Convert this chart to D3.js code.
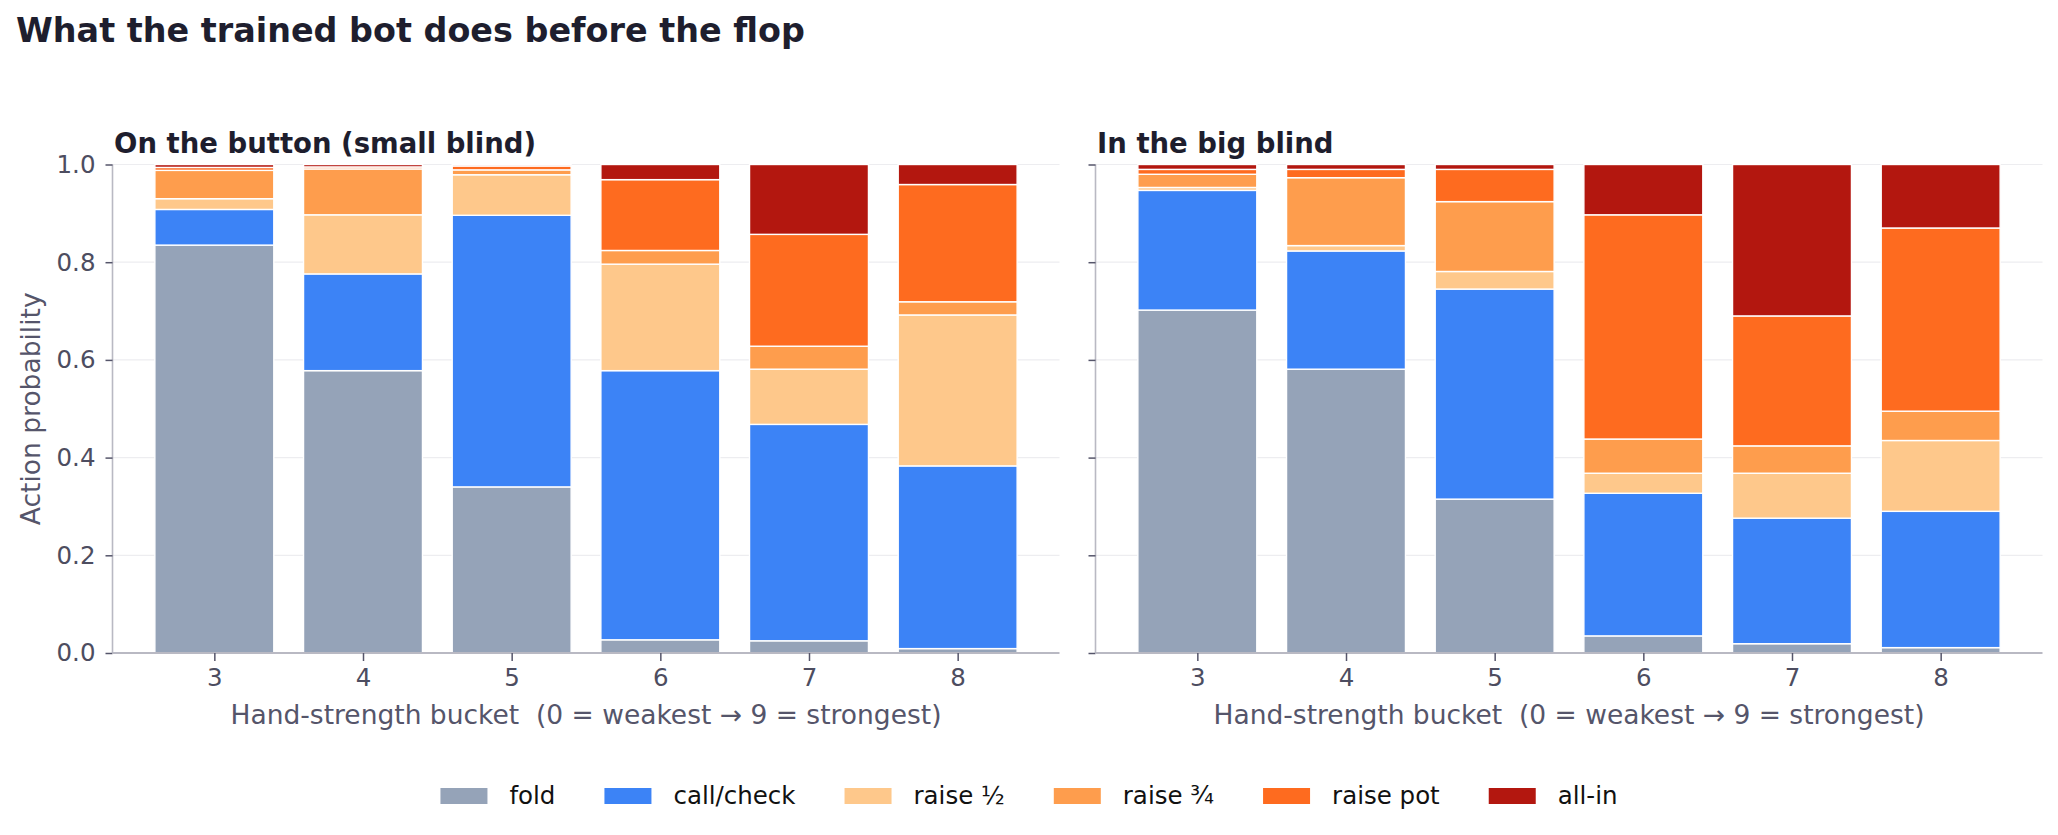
<!DOCTYPE html>
<html><head><meta charset="utf-8">
<script src="https://cdn.jsdelivr.net/npm/d3@7"></script>
<style>
html,body{margin:0;padding:0;background:#fff;}
svg{display:block;font-family:"DejaVu Sans",sans-serif;}
text{white-space:pre;}
</style></head>
<body>
<svg id="chart" width="2058" height="835"></svg>
<script>
const title = "What the trained bot does before the flop";
const panelTitles = ["On the button (small blind)", "In the big blind"];
const categories = ["3", "4", "5", "6", "7", "8"];
const actions = ["fold", "call/check", "raise ½", "raise ¾", "raise pot", "all-in"];
const actionColors = ["#95a3b8", "#3c83f6", "#fec88b", "#fe9d4d", "#fe6b1f", "#b3170f"];
const yTicks = [0, 0.2, 0.4, 0.6, 0.8, 1.0];
const xLabel = "Hand-strength bucket  (0 = weakest \u2192 9 = strongest)";
const yLabel = "Action probability";

// button (small blind)
const btnFold  = [0.835, 0.578, 0.340, 0.027, 0.025, 0.009];
const btnCall  = [0.073, 0.198, 0.556, 0.551, 0.443, 0.374];
const btnHalf  = [0.022, 0.121, 0.083, 0.218, 0.113, 0.309];
const btnThree = [0.058, 0.094, 0.010, 0.028, 0.047, 0.027];
const btnPot   = [0.006, 0.004, 0.008, 0.145, 0.229, 0.240];
const btnAllin = [0.006, 0.005, 0.003, 0.031, 0.143, 0.041];
// big blind
const bbFold  = [0.702, 0.581, 0.315, 0.035, 0.019, 0.011];
const bbCall  = [0.245, 0.242, 0.430, 0.292, 0.257, 0.279];
const bbHalf  = [0.006, 0.011, 0.036, 0.041, 0.092, 0.145];
const bbThree = [0.027, 0.139, 0.143, 0.070, 0.056, 0.060];
const bbPot   = [0.010, 0.017, 0.066, 0.459, 0.266, 0.375];
const bbAllin = [0.010, 0.010, 0.010, 0.103, 0.310, 0.130];

const panels = [
  {title: panelTitles[0], series: [btnFold, btnCall, btnHalf, btnThree, btnPot, btnAllin], x0: 112.5, x1: 1059.5, labels: true},
  {title: panelTitles[1], series: [bbFold, bbCall, bbHalf, bbThree, bbPot, bbAllin], x0: 1095.5, x1: 2042.5, labels: false}
];

const svg = d3.select("#chart");
const yTop = 164.5, yBot = 653;
const y = d3.scaleLinear().domain([0, 1]).range([yBot, yTop]);
const textDark = "#1e1e2e", tickText = "#4d4d60", spineCol = "#b9b9c3", tickCol = "#55556a";

svg.append("text").attr("x", 16).attr("y", 42).attr("font-size", 33.4).attr("font-weight", "bold")
  .attr("fill", textDark).text(title);

panels.forEach(p => {
  const g = svg.append("g");
  const x = d3.scaleLinear().domain([-0.685, categories.length - 1 + 0.685]).range([p.x0, p.x1]);
  // grid
  g.append("g").selectAll("line").data(yTicks.filter(d => d > 0)).join("line")
    .attr("x1", p.x0).attr("x2", p.x1).attr("y1", d => y(d)).attr("y2", d => y(d))
    .attr("stroke", "#ededf0").attr("stroke-width", 1.2);
  // stacked bars
  const rows = categories.map((c, i) => {
    const r = {cat: c, i: i};
    actions.forEach((a, k) => r[a] = p.series[k][i]);
    return r;
  });
  const stacked = d3.stack().keys(actions)(rows);
  stacked.forEach((layer, k) => {
    g.append("g").selectAll("rect").data(layer).join("rect")
      .attr("x", d => x(d.data.i - 0.4))
      .attr("width", d => x(d.data.i + 0.4) - x(d.data.i - 0.4))
      .attr("y", d => y(d[1]))
      .attr("height", d => Math.max(0, y(d[0]) - y(d[1])))
      .attr("fill", actionColors[k])
      .attr("stroke", "#ffffff").attr("stroke-width", 1.4);
  });
  // y axis
  const yAxis = d3.axisLeft(y).tickValues(yTicks).tickSize(7).tickPadding(10)
    .tickFormat(p.labels ? d3.format(".1f") : () => "");
  const ya = g.append("g").attr("transform", `translate(${p.x0},0)`).call(yAxis);
  ya.select(".domain").attr("stroke", spineCol).attr("stroke-width", 1.6).attr("d", `M0,${yTop}V${yBot}`);
  ya.selectAll(".tick line").attr("stroke", tickCol).attr("stroke-width", 1.5);
  ya.selectAll(".tick text").attr("fill", tickText).attr("font-size", 24.5).attr("font-family", "DejaVu Sans");
  // x axis
  const xAxis = d3.axisBottom(x).tickValues(categories.map((c, i) => i)).tickFormat(i => categories[i])
    .tickSize(8).tickPadding(8);
  const xa = g.append("g").attr("transform", `translate(0,${yBot})`).call(xAxis);
  xa.select(".domain").attr("stroke", spineCol).attr("stroke-width", 1.8).attr("d", `M${p.x0},0H${p.x1}`);
  xa.selectAll(".tick line").attr("stroke", tickCol).attr("stroke-width", 1.5);
  xa.selectAll(".tick text").attr("fill", tickText).attr("font-size", 24.5).attr("font-family", "DejaVu Sans");
  // titles
  g.append("text").attr("x", p.x0 + 1.5).attr("y", 152.5).attr("font-size", 27.5).attr("font-weight", "bold")
    .attr("fill", textDark).text(p.title);
  g.append("text").attr("x", (p.x0 + p.x1) / 2).attr("y", 724).attr("text-anchor", "middle")
    .attr("font-size", 26.5).attr("fill", "#55556a").text(xLabel);
});

// y label
svg.append("text").attr("transform", `translate(40,${(yTop + yBot) / 2}) rotate(-90)`)
  .attr("text-anchor", "middle").attr("font-size", 26.5).attr("fill", "#55556a").text(yLabel);

// legend
const fs = 24.5, patchW = 47, patchH = 16, padText = 22, colSpace = 49;
const lg = svg.append("g");
const items = lg.selectAll("g").data(actions).join("g");
items.append("rect").attr("width", patchW).attr("height", patchH).attr("y", 788)
  .attr("fill", (d, i) => actionColors[i]);
items.append("text").attr("x", patchW + padText).attr("y", 804).attr("font-size", fs).attr("fill", "#111").text(d => d);
const widths = [];
items.each(function () { widths.push(d3.select(this).select("text").node().getComputedTextLength()); });
const total = d3.sum(widths.map(w => patchW + padText + w)) + colSpace * (actions.length - 1);
let cx = 1029 - total / 2;
items.each(function (d, i) {
  d3.select(this).attr("transform", `translate(${cx},0)`);
  cx += patchW + padText + widths[i] + colSpace;
});
</script>
</body></html>
